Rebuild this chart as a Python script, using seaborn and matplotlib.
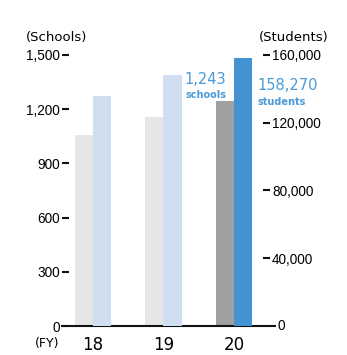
import numpy as np
import matplotlib
matplotlib.use("Agg")
import matplotlib.pyplot as plt
from matplotlib import font_manager
import seaborn as sns

# ---- data ----
years = ["18", "19", "20"]
schools = [1057, 1157, 1243]
students = [135800, 148200, 158270]
school_ticks = [0, 300, 600, 900, 1200, 1500]
student_ticks = [40000, 80000, 120000, 160000]
school_colors = ["#e6e6e6", "#e6e6e6", "#9fa0a0"]
student_colors = ["#cfdef0", "#cfdef0", "#4592d2"]

# fonts
names = {f.name for f in font_manager.fontManager.ttflist}
narrow = "Liberation Sans Narrow" in names
num_font = "Liberation Sans Narrow" if narrow else "Liberation Sans"
num_size = 10.5 if narrow else 9.8
txt_font = "DejaVu Sans"
blue_txt = "#4a9ad8"

W, H = 347, 355
fig = plt.figure(figsize=(W / 100, H / 100), dpi=100)
ax = fig.add_axes([62 / W, 1 - 326 / H, (275 - 62) / W, (326 - 55) / H])
ax2 = ax.twinx()

pos = np.arange(len(years))
w = 0.262

sns.barplot(x=pos - w / 2, y=schools, hue=years,
            palette=dict(zip(years, school_colors)), native_scale=True,
            width=w, dodge=False, legend=False, ax=ax, linewidth=0,
            saturation=1)
sns.barplot(x=pos + w / 2, y=students, hue=years,
            palette=dict(zip(years, student_colors)), native_scale=True,
            width=w, dodge=False, legend=False, ax=ax2, linewidth=0,
            saturation=1)

ax.set_xlim(-0.44, 2.582)
ax.set_ylim(0, 1500)
ax2.set_ylim(0, 160000)

for a in (ax, ax2):
    a.set_xlabel("")
    a.set_ylabel("")
    for s in ("top", "left", "right"):
        a.spines[s].set_visible(False)
    a.set_facecolor("none")
ax2.spines["bottom"].set_visible(False)
ax.spines["bottom"].set_linewidth(1.5)
ax.spines["bottom"].set_color("#111111")

ax.set_xticks(pos, years)
ax.tick_params(axis="x", length=0, pad=7, labelsize=12)
for lab in ax.get_xticklabels():
    lab.set_fontfamily(txt_font)

ax.set_yticks(school_ticks, [f"{v:,}" for v in school_ticks])
ax.tick_params(axis="y", direction="in", length=5.0, width=1.5, pad=1.5,
               labelsize=num_size, color="#111111")
for lab in ax.get_yticklabels():
    lab.set_fontfamily(num_font)

ax2.spines["right"].set_position(("outward", -3.6))
ax2.set_yticks(student_ticks, [f"{v:,}" for v in student_ticks])
ax2.tick_params(axis="y", direction="in", length=5.0, width=1.5, pad=1.5,
                labelsize=num_size, color="#111111")
for lab in ax2.get_yticklabels():
    lab.set_fontfamily(num_font)

def ftxt(x, y, s, **kw):
    fig.text(x / W, 1 - y / H, s, **kw)

ftxt(278, 326, "0", ha="left", va="center", fontsize=num_size, family=num_font)
ftxt(57, 37, "(Schools)", ha="center", va="center", fontsize=9.5, family=txt_font)
ftxt(294, 37, "(Students)", ha="center", va="center", fontsize=9.5, family=txt_font)
ftxt(47, 343, "(FY)", ha="center", va="center", fontsize=9, family=txt_font)

ftxt(226, 80, f"{schools[-1]:,}", ha="right", va="center", fontsize=10.5,
     family=txt_font, color=blue_txt)
ftxt(226, 95, "schools", ha="right", va="center", fontsize=7,
     family=txt_font, color=blue_txt, fontweight="bold")
ftxt(257, 86, f"{students[-1]:,}", ha="left", va="center", fontsize=10.5,
     family=txt_font, color=blue_txt)
ftxt(257, 102, "students", ha="left", va="center", fontsize=7,
     family=txt_font, color=blue_txt, fontweight="bold")

fig.savefig("out.png", dpi=100)
